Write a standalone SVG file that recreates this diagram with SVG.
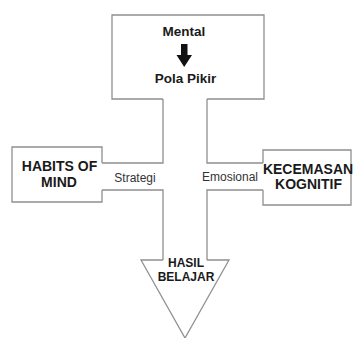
<svg xmlns="http://www.w3.org/2000/svg" width="353" height="338" viewBox="0 0 353 338">
<style>
.ln{fill:none;stroke:#8f8f8f;stroke-width:1.3;stroke-linejoin:miter}
.b{font-family:"Liberation Sans",Arial,sans-serif;font-weight:bold;fill:#1a1a1a;text-anchor:middle}
.r{font-family:"Liberation Sans",Arial,sans-serif;fill:#333;text-anchor:middle;font-size:12px}
</style>
<rect width="353" height="338" fill="#fff"/>
<g id="mental">
<path class="ln" d="M163,99 H112 V15 H264 V99 H207"/>
<text class="b" x="184" y="36" font-size="13.5">Mental</text>
<path d="M181,44 H187.5 V55 H192 L184.2,67 L176.5,55 H181 Z" fill="#111"/>
<text class="b" x="185.5" y="83" font-size="13.5">Pola Pikir</text>
</g>
<g id="habits">
<path class="ln" d="M102,163 V147 H12 V202 H102 V190"/>
<text class="b" x="59.5" y="171" font-size="14">HABITS OF</text>
<text class="b" x="59" y="186.5" font-size="14">MIND</text>
</g>
<g id="kecemasan">
<path class="ln" d="M263,163 V150 H351 V205 H263 V190"/>
<text class="b" x="308" y="174" font-size="14">KECEMASAN</text>
<text class="b" x="308.5" y="188.5" font-size="14">KOGNITIF</text>
</g>
<g id="hasil">
<path class="ln" d="M163,260 H141 L185,338 L229,260 H207"/>
<text class="b" x="186" y="266.5" font-size="12">HASIL</text>
<text class="b" x="186" y="281" font-size="12">BELAJAR</text>
</g>
<g id="connectors">
<path class="ln" d="M163,99 V163 H102"/>
<path class="ln" d="M102,190 H163 V260"/>
<path class="ln" d="M207,99 V163 H263"/>
<path class="ln" d="M263,190 H207 V260"/>
<text class="r" x="135" y="181.5" font-size="12.3">Strategi</text>
<text class="r" x="230" y="181">Emosional</text>
</g>
</svg>
